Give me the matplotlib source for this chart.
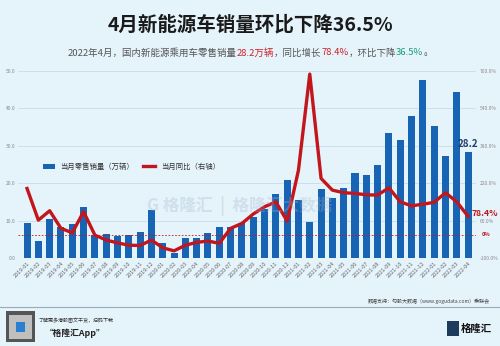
import matplotlib
matplotlib.use("Agg")
import matplotlib.pyplot as plt
from matplotlib.patches import Rectangle

plt.rcParams['font.family'] = ['Noto Sans CJK SC', 'DejaVu Sans']

# 数据
months = ["2019-01", "2019-02", "2019-03", "2019-04", "2019-05", "2019-06", "2019-07", "2019-08",
          "2019-09", "2019-10", "2019-11", "2019-12", "2020-01", "2020-02", "2020-03", "2020-04",
          "2020-05", "2020-06", "2020-07", "2020-08", "2020-09", "2020-10", "2020-11", "2020-12",
          "2021-01", "2021-02", "2021-03", "2021-04", "2021-05", "2021-06", "2021-07", "2021-08",
          "2021-09", "2021-10", "2021-11", "2021-12", "2022-01", "2022-02", "2022-03", "2022-04"]
sales = [9.4, 4.6, 10.4, 8.4, 9.2, 13.7, 6.1, 6.4, 6.0, 6.1, 7.0, 12.9,
         3.9, 1.4, 5.4, 5.4, 6.6, 8.2, 8.4, 9.4, 11.0, 13.2, 17.0, 20.8,
         15.5, 9.5, 18.4, 16.1, 18.7, 22.8, 22.1, 24.9, 33.3, 31.5, 37.8, 47.5,
         35.2, 27.1, 44.4, 28.2]
yoy = [197, 62, 102, 27, 8, 98, -2, -23, -35, -45, -46, -23,
       -56, -69, -45, -33, -27, -37, 27, 48, 88, 119, 140, 58,
       275, 685, 240, 190, 179, 176, 170, 169, 200, 140, 123, 130,
       138, 179, 140, 78.4]
left_ticks = [0, 10, 20, 30, 40, 50]
right_ticks = [-100, 60, 220, 380, 540, 700]

bg = '#e5f3fb'
bar_color = '#1763b4'
line_color = '#c3161c'

fig = plt.figure(figsize=(5, 3.46), dpi=100, facecolor=bg)

# 标题
fig.text(0.5, 0.928, "4月新能源车销量环比下降36.5%", ha='center', va='center',
         fontsize=14, fontweight='bold', color='#1a1a1a')

# 副标题（分段着色）
parts = [("2022年4月，国内新能源乘用车零售销量", '#555555'), ("28.2万辆", '#d0202a'),
         ("，同比增长", '#555555'), ("78.4%", '#d0202a'),
         ("，环比下降", '#555555'), ("36.5%", '#1a9a7a'), ("。", '#555555')]
fig.canvas.draw()
renderer = fig.canvas.get_renderer()
texts = []
total_w = 0
for s, c in parts:
    t = fig.text(0, 0.847, s, fontsize=6.8, color=c, va='center')
    w = t.get_window_extent(renderer).width
    texts.append((t, w))
    total_w += w
x0 = (500 - total_w) / 2
for t, w in texts:
    t.set_x(x0 / 500)
    x0 += w

ax = fig.add_axes([0.036, 0.254, 0.916, 0.542])
ax.set_facecolor(bg)
xs = list(range(len(months)))
bars = ax.bar(xs, sales, width=0.62, color=bar_color, label='当月零售销量（万辆）', zorder=2)
ax.set_ylim(0, 50)
ax.set_yticks(left_ticks)
ax.set_yticklabels([f"{v:.1f}" for v in left_ticks], fontsize=3.5, color='#888888')
ax.set_xlim(-0.8, len(months) - 0.3)
ax.set_xticks(xs)
ax.set_xticklabels(months, rotation=45, ha='right', rotation_mode='anchor', fontsize=4, color='#666666')
ax.tick_params(length=0, pad=2)
ax.grid(axis='y', color='#c9dcea', linewidth=0.6, zorder=0)
for sp in ax.spines.values():
    sp.set_visible(False)

ax2 = ax.twinx()
ax2.set_ylim(-100, 700)
ax2.set_yticks(right_ticks)
ax2.set_yticklabels([f"{v:.1f}%" for v in right_ticks], fontsize=3.5, color='#888888')
ax2.tick_params(length=0, pad=3)
for sp in ax2.spines.values():
    sp.set_visible(False)
ln, = ax2.plot(xs, yoy, color=line_color, linewidth=2.4, label='当月同比（右轴）', zorder=3,
               solid_joinstyle='round')
ax2.axhline(0, color=line_color, linestyle=(0, (2, 2)), linewidth=0.6, zorder=1)
ax2.text(1.012, 0, "0%", transform=ax2.get_yaxis_transform(), fontsize=4, color=line_color,
         va='center', ha='left', fontweight='bold')

# 标注
ax.text(xs[-1], sales[-1] + 0.8, "28.2", ha='center', va='bottom', fontsize=7,
        fontweight='bold', color='#1f3f66')
ax2.text(xs[-1] + 0.35, yoy[-1] + 12, "78.4%", ha='left', va='center', fontsize=6.3,
         fontweight='bold', color=line_color)

ax.legend([bars, ln], ['当月零售销量（万辆）', '当月同比（右轴）'], loc='lower left',
          bbox_to_anchor=(0.04, 0.43), ncol=2, frameon=False, fontsize=5.3,
          handlelength=1.6, columnspacing=1.2, labelcolor='#333333')

# 水印
fig.text(0.48, 0.405, "G 格隆汇  |  格隆汇大数据", fontsize=12, color='#9fb4c8', alpha=0.3,
         ha='center', va='center', fontweight='bold')

# 数据来源与分隔线
fig.text(0.98, 0.128, "数据支持：勾股大数据（www.gogudata.com）乘联会", fontsize=3.6,
         color='#444444', ha='right', va='center')
fig.add_artist(plt.Line2D([0, 1], [0.112, 0.112], color='#9aaab8', linewidth=0.8))

# 底部二维码和logo
fig.add_artist(Rectangle((0.012, 0.012), 0.058, 0.088, facecolor='#555555', edgecolor='none'))
fig.add_artist(Rectangle((0.018, 0.021), 0.046, 0.070, facecolor='#bfbfbf', edgecolor='none'))
fig.add_artist(Rectangle((0.032, 0.04), 0.018, 0.03, facecolor='#2a7fd0', edgecolor='none'))
fig.text(0.076, 0.075, "了解更多港股图文干货，扫码下载", fontsize=3.6, color='#333333',
         style='italic', va='center')
fig.text(0.09, 0.038, "“格隆汇App”", fontsize=6.3, color='#222222', fontweight='bold',
         style='italic', va='center')
fig.add_artist(Rectangle((0.894, 0.03), 0.024, 0.042, facecolor='#1d3b5c', edgecolor='none'))
fig.text(0.922, 0.05, "格隆汇", fontsize=7.5, color='#111111', fontweight='bold', va='center')

fig.savefig("out.png", dpi=100, facecolor=bg)
